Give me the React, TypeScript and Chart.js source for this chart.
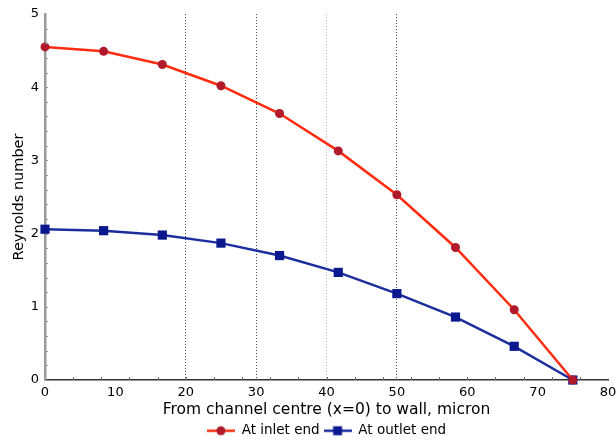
import React, { useEffect, useRef } from "react";
import { Chart, registerables } from "chart.js";

Chart.register(...registerables);

const xPositions = [0, 8.33, 16.67, 25, 33.33, 41.67, 50, 58.33, 66.67, 75];
const inletValues = [4.55, 4.49, 4.31, 4.02, 3.64, 3.13, 2.53, 1.81, 0.96, 0.0];
const outletValues = [2.06, 2.04, 1.98, 1.87, 1.70, 1.47, 1.18, 0.86, 0.46, 0.0];
const seriesLabels = ["At inlet end", "At outlet end"];
const xTitle = "From channel centre (x=0) to wall, micron";
const yTitle = "Reynolds number";

const FONT = "'DejaVu Sans', Verdana, sans-serif";
const INLET_LINE = "#ff2c10";
const INLET_POINT = "#b11a2a";
const OUTLET_LINE = "#1c2e9e";
const OUTLET_POINT = "#0b198e";

function makeLegendImage(lineColor: string, pointColor: string, square: boolean) {
  const c = document.createElement("canvas");
  c.width = 28;
  c.height = 12;
  const g = c.getContext("2d")!;
  g.strokeStyle = lineColor;
  g.lineWidth = 2.5;
  g.beginPath();
  g.moveTo(0, 6);
  g.lineTo(28, 6);
  g.stroke();
  g.fillStyle = pointColor;
  if (square) {
    g.fillRect(9.5, 1.5, 9, 9);
  } else {
    g.beginPath();
    g.arc(14, 6, 4.5, 0, Math.PI * 2);
    g.fill();
  }
  return c;
}

const minorTicks = {
  id: "minorTicks",
  afterDatasetsDraw(chart: any) {
    const { ctx, chartArea, scales } = chart;
    const x = scales.x;
    const y = scales.y;
    ctx.save();
    ctx.strokeStyle = "#666";
    ctx.lineWidth = 1;
    for (let v = 4; v < 80; v += 4) {
      const px = Math.round(x.getPixelForValue(v)) + 0.5;
      ctx.beginPath();
      ctx.moveTo(px, chartArea.bottom);
      ctx.lineTo(px, chartArea.bottom - 3);
      ctx.stroke();
    }
    ctx.strokeStyle = "#999";
    for (let i = 1; i < 25; i++) {
      const v = i * 0.2;
      const py = Math.round(y.getPixelForValue(v)) + 0.5;
      ctx.beginPath();
      ctx.moveTo(chartArea.left, py);
      ctx.lineTo(chartArea.left + 3, py);
      ctx.stroke();
    }
    ctx.restore();
  },
};

const legendOnPlot = {
  id: "legendOnPlot",
  beforeDraw(chart: any) {
    const lg = chart.legend;
    if (lg) {
      const w = lg.right - lg.left;
      const center = (chart.chartArea.left + chart.chartArea.right) / 2;
      lg.left = center - w / 2;
      lg.right = center + w / 2;
    }
  },
};

export default function App() {
  const ref = useRef<HTMLCanvasElement>(null);

  useEffect(() => {
    document.body.style.margin = "0";
    const inletImg = makeLegendImage(INLET_LINE, INLET_POINT, false);
    const outletImg = makeLegendImage(OUTLET_LINE, OUTLET_POINT, true);
    const chart = new Chart(ref.current!, {
      type: "line",
      data: {
        datasets: [
          {
            label: seriesLabels[0],
            data: xPositions.map((x, i) => ({ x, y: inletValues[i] })),
            borderColor: INLET_LINE,
            backgroundColor: INLET_POINT,
            pointBackgroundColor: INLET_POINT,
            pointBorderColor: INLET_POINT,
            borderWidth: 2.5,
            pointRadius: 4.5,
            pointBorderWidth: 0,
            pointStyle: "circle",
            tension: 0,
            clip: false,
          },
          {
            label: seriesLabels[1],
            data: xPositions.map((x, i) => ({ x, y: outletValues[i] })),
            borderColor: OUTLET_LINE,
            backgroundColor: OUTLET_POINT,
            pointBackgroundColor: OUTLET_POINT,
            pointBorderColor: OUTLET_POINT,
            borderWidth: 2.5,
            pointRadius: 6.5,
            pointBorderWidth: 0,
            pointStyle: "rect",
            tension: 0,
            clip: false,
          },
        ],
      },
      options: {
        animation: false,
        responsive: false,
        maintainAspectRatio: false,
        layout: { padding: { top: 14, right: 8, left: 0, bottom: -6.5 } },
        plugins: {
          tooltip: { enabled: false },
          legend: {
            position: "bottom",
            labels: {
              usePointStyle: true,
              pointStyleWidth: 28,
              padding: 4,
              color: "#000",
              font: { family: FONT, size: 13.5 },
              generateLabels: () => [
                { text: seriesLabels[0], pointStyle: inletImg as any, datasetIndex: 0, fillStyle: INLET_POINT, strokeStyle: INLET_LINE, lineWidth: 0, hidden: false },
                { text: seriesLabels[1], pointStyle: outletImg as any, datasetIndex: 1, fillStyle: OUTLET_POINT, strokeStyle: OUTLET_LINE, lineWidth: 0, hidden: false },
              ],
            },
          },
        },
        scales: {
          x: {
            type: "linear",
            min: 0,
            max: 80,
            ticks: {
              stepSize: 10,
              color: "#000",
              padding: 5,
              font: { family: FONT, size: 13 },
              maxRotation: 0,
            },
            grid: {
              drawTicks: false,
              color: (c: any) => {
                const v = c.tick && c.tick.value;
                if (v === 20 || v === 30 || v === 50) return "rgba(40,40,40,0.85)";
                if (v === 40) return "rgba(120,120,120,0.5)";
                return "rgba(0,0,0,0)";
              },
              lineWidth: 1,
            },
            border: { color: "#333", width: 1.5, dash: [1, 2] as any },
            title: {
              display: true,
              text: xTitle,
              color: "#000",
              font: { family: FONT, size: 15.5 },
              padding: { top: 0, bottom: 1 },
            },
            afterFit: (s: any) => {
              s.height = 40;
              s.paddingLeft = 0;
              s.paddingRight = 0;
            },
          },
          y: {
            type: "linear",
            min: 0,
            max: 5,
            ticks: {
              stepSize: 1,
              color: "#000",
              padding: 6,
              font: { family: FONT, size: 13 },
            },
            grid: { display: false, drawTicks: false },
            border: { color: "#9a9a9a", width: 2.5 },
            title: {
              display: true,
              text: yTitle,
              color: "#000",
              font: { family: FONT, size: 14.5 },
              padding: { top: 11, bottom: 0 },
            },
            afterFit: (s: any) => {
              s.width = 45;
              s.paddingTop = 0;
              s.paddingBottom = 0;
            },
          },
        },
      },
      plugins: [minorTicks, legendOnPlot],
    });
    return () => chart.destroy();
  }, []);

  return (
    <div style={{ position: "fixed", left: 0, top: 0, width: 616, height: 441, background: "#fff" }}>
      <canvas ref={ref} width={616} height={441} style={{ width: 616, height: 441 }} />
    </div>
  );
}
